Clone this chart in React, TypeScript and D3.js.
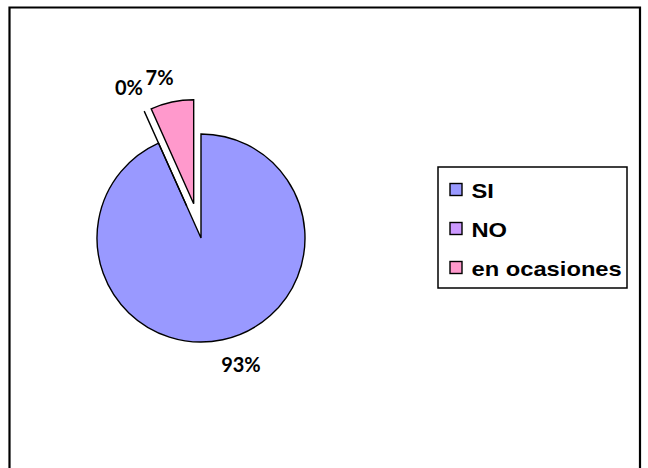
import React from "react";
import * as d3 from "d3";

const categories = ["SI", "NO", "en ocasiones"];
const values = [93.3, 0, 6.7];
const colors = ["#9999FF", "#CC99FF", "#FF99CC"];
const explode = [0, 35, 35];

const W = 648;
const H = 468;
const cx = 201;
const cy = 238;
const R = 104;

export default function App() {
  const total = d3.sum(values);
  const pie = d3
    .pie<number>()
    .sort(null)
    .value((d) => d)
    .startAngle(0)
    .endAngle(2 * Math.PI);
  const arcs = pie(values);
  const arc = d3.arc<d3.PieArcDatum<number>>().innerRadius(0).outerRadius(R);

  const slices = arcs.map((a, i) => {
    const mid = (a.startAngle + a.endAngle) / 2;
    const ux = Math.sin(mid);
    const uy = -Math.cos(mid);
    const ox = cx + ux * explode[i];
    const oy = cy + uy * explode[i];
    const px = ox + ux * (R + 14);
    const py = oy + uy * (R + 14);
    const right = ux >= 0;
    const bottom = uy > 0;
    const lx = right ? px - 4.5 : px + 4.5;
    const ly = bottom ? py + 19 : py - 3;
    const label = Math.round((values[i] / total) * 100) + "%";
    return { a, i, ox, oy, lx, ly, anchor: right ? "start" : "end", label };
  });

  const legendX = 438;
  const legendY = 167;
  const legendW = 189;
  const legendH = 121;
  const rowY = d3.scalePoint<string>().domain(categories).range([190, 268]);

  return (
    <svg
      width={W}
      height={H}
      style={{ position: "absolute", left: 0, top: 0, background: "#fff" }}
    >
      <rect x={0} y={0} width={W} height={H} fill="#fff" />
      <path
        d={`M9.5,${H + 5} L9.5,7.5 L640,7.5 L640,${H + 5}`}
        fill="none"
        stroke="#000"
        strokeWidth={2.2}
      />
      {slices.map((s) => (
        <path
          key={s.i}
          d={arc(s.a) || ""}
          transform={`translate(${s.ox},${s.oy})`}
          fill={colors[s.i]}
          stroke="#000"
          strokeWidth={1.4}
          strokeLinejoin="miter"
        />
      ))}
      {slices.map((s) => (
        <text
          key={"l" + s.i}
          x={s.lx}
          y={s.ly}
          textAnchor={s.anchor}
          fontFamily="Lato, 'Open Sans', sans-serif"
          fontWeight="bold"
          fontSize={20}
          fill="#000"
        >
          {s.label}
        </text>
      ))}
      <rect
        x={legendX}
        y={legendY}
        width={legendW}
        height={legendH}
        fill="#fff"
        stroke="#000"
        strokeWidth={1.5}
      />
      {categories.map((c, i) => {
        const y = rowY(c) as number;
        return (
          <g key={c}>
            <rect
              x={450}
              y={y - 6.5}
              width={12}
              height={12}
              fill={colors[i]}
              stroke="#000"
              strokeWidth={1.4}
            />
            <text
              transform={`translate(471.5,${y + 7.5}) scale(1.13,1)`}
              fontFamily="'Liberation Sans', Arial, sans-serif"
              fontWeight="bold"
              fontSize={21}
              fill="#000"
            >
              {c}
            </text>
          </g>
        );
      })}
    </svg>
  );
}
